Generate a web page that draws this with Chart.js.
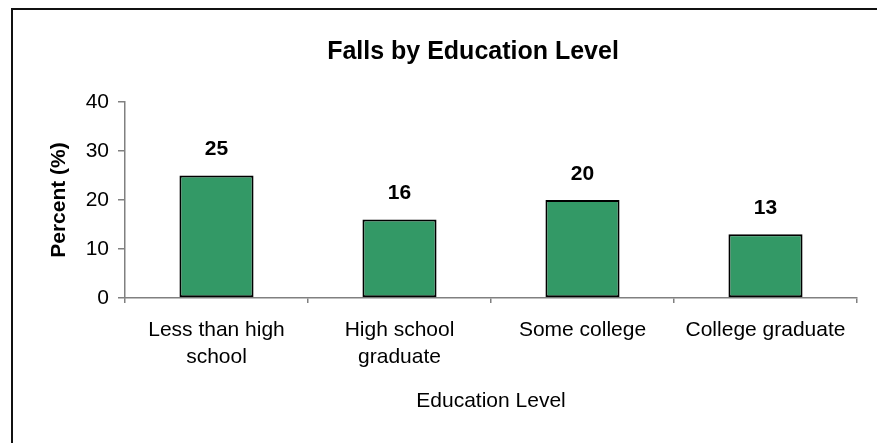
<!DOCTYPE html>
<html>
<head>
<meta charset="utf-8">
<script src="https://cdn.jsdelivr.net/npm/chart.js@4/dist/chart.umd.min.js"></script>
<style>
  html, body { margin: 0; padding: 0; background: #fff; }
  #wrap { position: relative; width: 877px; height: 443px; overflow: hidden; background: #fff; }
  #frame { position: absolute; left: 11px; top: 8px; right: -10px; bottom: -10px;
           border-top: 2px solid #111; border-left: 2px solid #111; }
  canvas { position: absolute; left: 0; top: 0; }
</style>
</head>
<body>
<div id="wrap">
  <div id="frame"></div>
  <canvas id="c" width="877" height="443"></canvas>
</div>
<script>
const titleText = 'Falls by Education Level';
const xTitle = 'Education Level';
const yTitle = 'Percent (%)';
const categories = [['Less than high', 'school'], ['High school', 'graduate'], ['Some college'], ['College graduate']];
const percentValues = [25, 16, 20, 13];
const yMin = 0, yMax = 40, yStep = 10;

const FONT = '"Liberation Sans", Arial, Helvetica, sans-serif';

const titlePlugin = {
  id: 'customTitle',
  afterDraw(chart) {
    const ctx = chart.ctx;
    ctx.save();
    ctx.font = 'bold 25px ' + FONT;
    ctx.fillStyle = '#000';
    ctx.textAlign = 'center';
    ctx.textBaseline = 'middle';
    ctx.fillText(titleText, 473, 52);
    ctx.restore();
  }
};

const labelPlugin = {
  id: 'barLabels',
  afterDatasetsDraw(chart) {
    const ctx = chart.ctx;
    const meta = chart.getDatasetMeta(0);
    ctx.save();
    ctx.font = 'bold 21px ' + FONT;
    ctx.fillStyle = '#000';
    ctx.textAlign = 'center';
    ctx.textBaseline = 'middle';
    meta.data.forEach((bar, i) => {
      ctx.fillText(String(percentValues[i]), bar.x, bar.y - 26);
    });
    ctx.restore();
  }
};

new Chart(document.getElementById('c'), {
  type: 'bar',
  data: {
    labels: categories,
    datasets: [{
      data: percentValues,
      backgroundColor: '#339966',
      borderColor: '#000',
      borderWidth: 2,
      borderSkipped: false,
      barPercentage: 0.405,
      categoryPercentage: 1.0
    }]
  },
  options: {
    responsive: false,
    animation: false,
    devicePixelRatio: 1,
    layout: { padding: { top: 102, left: 0, right: 20, bottom: 0 } },
    plugins: { legend: { display: false }, title: { display: false }, tooltip: { enabled: false } },
    scales: {
      x: {
        offset: true,
        afterFit(s) { s.height = 145; s.paddingLeft = 0; s.paddingRight = 0; },
        grid: { offset: true, drawOnChartArea: false, drawTicks: true, tickLength: 5, color: '#808080', lineWidth: 1.5 },
        border: { display: true, color: '#808080', width: 1.5 },
        ticks: { color: '#000', padding: 13, maxRotation: 0, autoSkip: false,
                 font: { family: FONT, size: 21, lineHeight: 1.32 } },
        title: { display: true, text: xTitle, color: '#000', padding: { top: 0, bottom: 29 },
                 font: { family: FONT, size: 21, lineHeight: 1.2 } }
      },
      y: {
        min: yMin, max: yMax,
        afterFit(s) { s.width = 125; s.paddingTop = 0; s.paddingBottom = 0; },
        grid: { drawOnChartArea: false, drawTicks: true, tickLength: 7, color: '#808080', lineWidth: 1.5 },
        border: { display: true, color: '#808080', width: 1.5 },
        ticks: { stepSize: yStep, color: '#000', padding: 9,
                 font: { family: FONT, size: 21 } },
        title: { display: true, text: yTitle, color: '#000', padding: { top: 47, bottom: 0 },
                 font: { family: FONT, size: 21, weight: 'bold', lineHeight: 1.2 } }
      }
    }
  },
  plugins: [titlePlugin, labelPlugin]
});
</script>
</body>
</html>
